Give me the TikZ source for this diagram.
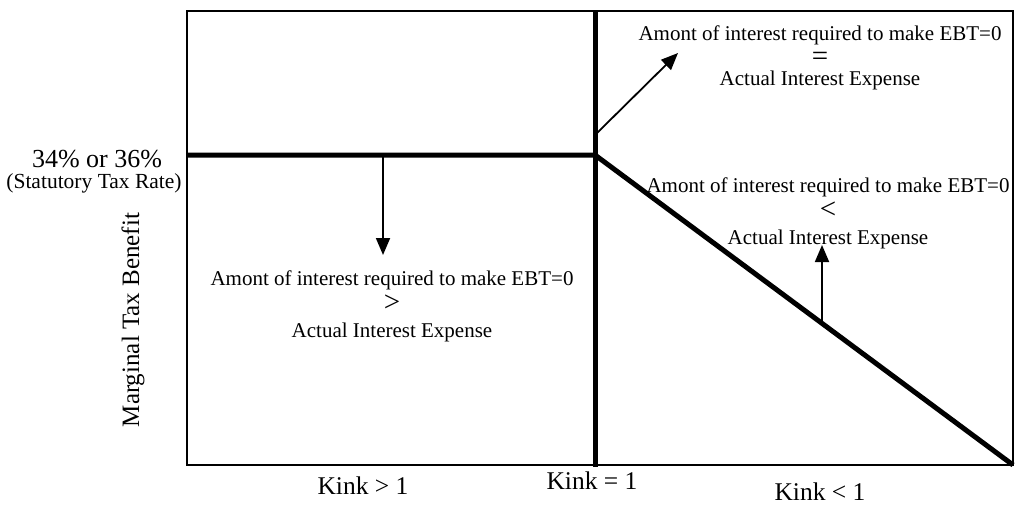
\documentclass[tikz,border=0pt]{standalone}
\usepackage{fontspec}
\setmainfont{Liberation Serif}
\usetikzlibrary{arrows.meta}
\newcommand{\relsym}[1]{{\fontsize{29}{26}\selectfont #1}} % the big =, < and > of the notes
\tikzset{
    >={Triangle[length=17pt,width=14pt]}, % filled arrow heads
    boxline/.style={line width=2pt}, % thin outer box
    bold line/.style={line width=5pt}, % thick benefit curve and the kink line
    pointer/.style={->, line width=1.8pt}, % small arrows
    note/.style={align=center, inner sep=0pt, anchor=north, font=\fontsize{21}{26}\selectfont}, % three line notes
    axis text/.style={inner sep=0pt, anchor=base, font=\fontsize{25.5}{27}\selectfont}, % labels under the box
}
\begin{document}
\begin{tikzpicture}[x=1pt, y=-1pt]
\useasboundingbox (0,0) rectangle (1016,506);
% corners of the box
\coordinate (tl) at (187,11);
\coordinate (tr) at (1013,11);
\coordinate (br) at (1013,465);
\coordinate (bl) at (187,465);
% the kink
\coordinate (kink) at (595,155);
\coordinate (kinktop) at (595,11);
\coordinate (kinkbot) at (595,467);
\coordinate (rate) at (187,155);
\draw[boxline] (tl) -- (tr) -- (br) -- (bl) -- cycle;
\draw[bold line] (rate) -- (kink) -- (br);
\draw[bold line] (kinktop) -- (kinkbot);

% notes
\node[note, font=\fontsize{21}{21.5}\selectfont] (equal) at (820,25.5)
    {Amont of interest required to make EBT=0\\[4pt] \relsym{=}\\[-2pt] Actual Interest Expense};
\node[note] (less) at (828,177.5)
    {Amont of interest required to make EBT=0\\ \relsym{<}\\ Actual Interest Expense};
\node[note] (more) at (392,270.5)
    {Amont of interest required to make EBT=0\\ \relsym{>}\\ Actual Interest Expense};

% arrows
\coordinate (a1) at (383,155);
\coordinate (a1end) at (383,255);
\coordinate (a2) at (595,135);
\coordinate (a2end) at (678,53);
\coordinate (a3) at (822,324);
\coordinate (a3end) at (822,245);
\draw[pointer] (a1) -- (a1end);
\draw[pointer] (a2) -- (a2end);
\draw[pointer] (a3) -- (a3end);

% left labels
\node[inner sep=0pt, anchor=base, font=\fontsize{26}{28}\selectfont] (pct) at (97,167) {34\% or 36\%};
\node[inner sep=0pt, anchor=base, font=\fontsize{21.5}{24}\selectfont] (stat) at (94,188) {(Statutory Tax Rate)};
\node[inner sep=0pt, rotate=90, font=\fontsize{25}{27}\selectfont] (mtb) at (133,320) {Marginal Tax Benefit};

% labels under the box
\node[axis text] (k1) at (363,494) {Kink > 1};
\node[axis text] (k2) at (592,489) {Kink = 1};
\node[axis text] (k3) at (820,500) {Kink < 1};
\end{tikzpicture}
\end{document}
